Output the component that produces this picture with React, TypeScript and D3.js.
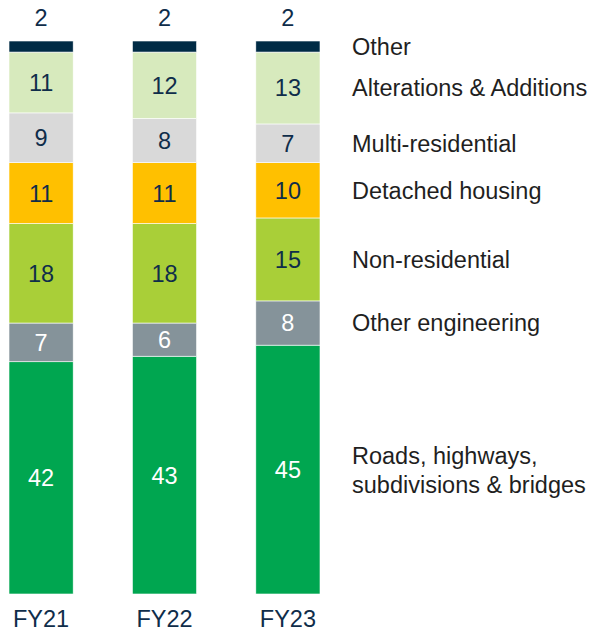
import { useRef, useEffect } from 'react';
import * as d3 from 'd3';

const WIDTH = 597;
const HEIGHT = 634;
const MARGIN = { top: 41, bottom: 40, left: 9 };
const PLOT_W = 311; // left edge of first bar to right edge of last

const years = ['FY21', 'FY22', 'FY23'];
const categories = [
	'Roads, highways, subdivisions & bridges',
	'Other engineering',
	'Non-residential',
	'Detached housing',
	'Multi-residential',
	'Alterations & Additions',
	'Other',
];
const colors = ['#00a650', '#85939a', '#a9cf38', '#ffc000', '#d9d9d9', '#d7eabd', '#002b45'];
const textColors = ['#ffffff', '#ffffff', '#0f2d4a', '#0f2d4a', '#0f2d4a', '#0f2d4a', '#0f2d4a'];
// shares per year, same order as categories (bottom -> top)
const fy21 = [42, 7, 18, 11, 9, 11, 2];
const fy22 = [43, 6, 18, 11, 8, 12, 2];
const fy23 = [45, 8, 15, 10, 7, 13, 2];
const legendLines = [
	['Roads, highways,', 'subdivisions & bridges'],
	['Other engineering'],
	['Non-residential'],
	['Detached housing'],
	['Multi-residential'],
	['Alterations & Additions'],
	['Other'],
];

const FONT = '"Liberation Sans", Arial, sans-serif';
const FS = 23.5;

const App = () => {
	const ref = useRef<SVGSVGElement>(null);

	useEffect(() => {
		const svg = d3.select(ref.current);
		svg.selectAll('*').remove();

		const values = [fy21, fy22, fy23];
		const rows = years.map((y, i) => {
			const row: any = { year: y };
			categories.forEach((c, j) => (row[c] = values[i][j]));
			return row;
		});
		const series = d3.stack<any>().keys(categories)(rows);

		// bars are ~64px wide with ~59px gaps
		const x = d3.scaleBand().domain(years).range([MARGIN.left, MARGIN.left + PLOT_W]).paddingInner(0.48).paddingOuter(0);
		const y = d3.scaleLinear().domain([0, 100]).range([HEIGHT - MARGIN.bottom, MARGIN.top]);

		const g = svg.append('g');

		series.forEach((s, k) => {
			const layer = g.append('g');
			layer.selectAll('rect')
				.data(s)
				.join('rect')
				.attr('x', d => x(d.data.year)!)
				.attr('width', x.bandwidth())
				.attr('y', d => y(d[1]))
				.attr('height', d => y(d[0]) - y(d[1]))
				.attr('fill', colors[k])
				.attr('stroke', '#ffffff')
				.attr('stroke-width', 0.6);

			const isTop = k === series.length - 1;
			layer.selectAll('text')
				.data(s)
				.join('text')
				.attr('x', d => x(d.data.year)! + x.bandwidth() / 2)
				.attr('y', d => isTop ? 18 : (y(d[0]) + y(d[1])) / 2)
				.attr('dy', '0.36em')
				.attr('text-anchor', 'middle')
				.attr('font-family', FONT)
				.attr('font-size', FS)
				.attr('fill', isTop ? '#0f2d4a' : textColors[k])
				.text(d => d[1] - d[0]);
		});

		// year labels
		g.selectAll('.year')
			.data(years)
			.join('text')
			.attr('x', d => x(d)! + x.bandwidth() / 2)
			.attr('y', 619)
			.attr('dy', '0.36em')
			.attr('text-anchor', 'middle')
			.attr('font-family', FONT)
			.attr('font-size', FS)
			.attr('fill', '#0f2d4a')
			.text(d => d);

		// legend aligned to last bar's segments
		const last = years[years.length - 1];
		series.forEach((s, k) => {
			const seg = s.find(d => d.data.year === last)!;
			const cy = (y(seg[0]) + y(seg[1])) / 2;
			const lines = legendLines[k];
			const lh = 29;
			const t = g.append('text')
				.attr('x', 352)
				.attr('font-family', FONT)
				.attr('font-size', FS)
				.attr('fill', '#1f1f1f');
			lines.forEach((ln, i) => {
				t.append('tspan')
					.attr('x', 352)
					.attr('y', cy + (i - (lines.length - 1) / 2) * lh)
					.attr('dy', '0.36em')
					.text(ln);
			});
		});
	}, []);

	return <svg ref={ref} width={WIDTH} height={HEIGHT} style={{ display: 'block', position: 'absolute', left: 0, top: 0 }} />;
};

export default App;
